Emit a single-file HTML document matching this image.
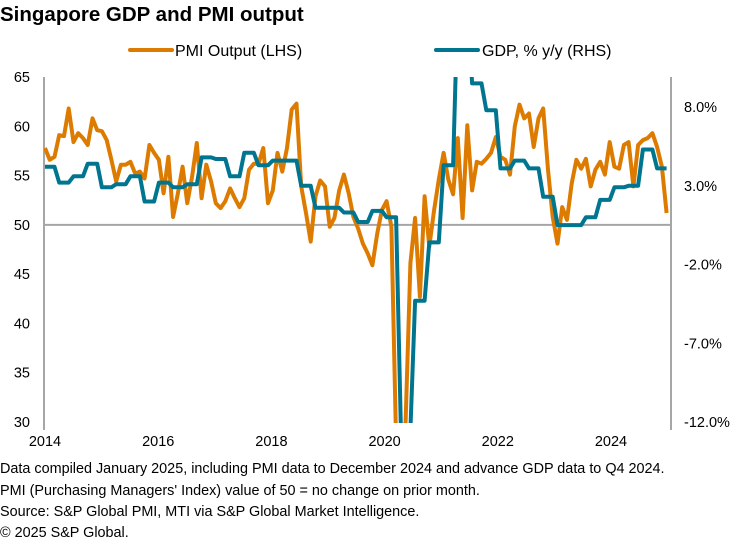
<!DOCTYPE html>
<html><head><meta charset="utf-8"><style>
body{margin:0;background:#fff;width:743px;height:541px;overflow:hidden;font-family:"Liberation Sans",Arial,sans-serif;}
svg text{font-family:"Liberation Sans",Arial,sans-serif;}
</style></head><body>
<svg id="chart" width="743" height="541" viewBox="0 0 743 541">
<text x="0" y="21" font-size="20.5" font-weight="bold" fill="#000">Singapore GDP and PMI output</text>
<g>
<line x1="130" y1="50" x2="172" y2="50" stroke="#dd7b00" stroke-width="4" stroke-linecap="round"/>
<text x="175" y="56" font-size="16" fill="#000">PMI Output (LHS)</text>
<line x1="436" y1="50" x2="478" y2="50" stroke="#00758f" stroke-width="4" stroke-linecap="round"/>
<text x="482" y="56" font-size="16" fill="#000">GDP, % y/y (RHS)</text>
</g>
<defs><clipPath id="plotclip"><rect x="44" y="77" width="628" height="346"/></clipPath></defs>
<g id="axes"></g>
<g id="series" clip-path="url(#plotclip)"></g>
<g font-size="14.4" fill="#000">
<text x="0" y="473">Data compiled January 2025, including PMI data to December 2024 and advance GDP data to Q4 2024.</text>
<text x="0" y="495">PMI (Purchasing Managers' Index) value of 50 = no change on prior month.</text>
<text x="0" y="516">Source: S&amp;P Global PMI, MTI via S&amp;P Global Market Intelligence.</text>
<text x="0" y="537">© 2025 S&amp;P Global.</text>
</g>
</svg>
<script>
const yearTicks = [2014, 2016, 2018, 2020, 2022, 2024];
const leftTicks = [30, 35, 40, 45, 50, 55, 60, 65];
const rightTicks = [-12, -7, -2, 3, 8];
const pmiOutput = [57.8,56.6,56.9,59.1,59.0,61.8,58.4,59.3,58.8,58.1,60.8,59.6,
59.5,58.6,56.6,54.4,56.1,56.1,56.4,55.2,55.4,54.7,58.1,57.3,
56.6,53.2,56.9,50.8,53.2,55.9,52.2,54.9,58.3,52.7,56.1,54.4,
52.2,51.7,52.4,53.7,52.7,51.8,52.7,55.6,56.2,56.2,57.8,52.2,
53.5,57.3,55.4,57.8,61.7,62.3,53.9,51.2,48.3,52.9,54.5,53.9,
49.8,50.7,53.5,55.1,53.2,50.8,49.6,48.1,47.1,45.9,49.1,51.5,
52.4,49.8,28.0,28.0,30.0,46.1,50.7,42.7,52.9,47.8,51.5,54.6,
57.3,54.6,53.1,58.8,50.7,60.1,53.5,56.4,56.2,56.7,57.3,58.9,
56.9,56.6,55.1,60.0,62.2,60.8,61.3,57.9,60.8,61.8,55.6,50.8,
48.1,51.8,50.5,54.2,56.6,55.7,56.7,53.9,55.6,56.4,55.1,58.4,
55.9,55.7,58.1,58.4,53.9,58.1,58.6,58.8,59.3,57.9,55.9,51.2];
const gdpQuarterly = [4.2,3.2,3.6,4.4, 2.9,3.1,3.6,2.0, 3.2,2.9,3.1,4.8, 4.7,3.6,5.1,4.3,
4.6,4.6,3.0,1.6, 1.6,1.3,0.7,1.4, 1.0,-12.5,-4.3,-0.6, 4.3,15.0,9.5,7.8,
4.1,4.6,4.1,2.3, 0.5,0.5,1.0,2.1, 2.9,3.0,5.3,4.1];

const NS='http://www.w3.org/2000/svg';
const X0=45, YEARPX=56.6, MONTHPX=4.745;
function xYear(y){return X0+(y-2014)*YEARPX;}
function xMonth(m){return X0+m*MONTHPX;}
function yL(v){return 77+(65-v)*(345/35);}
function yR(v){return 107+(8-v)*(315/20);}
function mk(tag,attrs,parent){const e=document.createElementNS(NS,tag);for(const k in attrs)e.setAttribute(k,attrs[k]);parent.appendChild(e);return e;}
const axes=document.getElementById('axes'), series=document.getElementById('series');

let e=mk('line',{x1:44,y1:77,x2:44,y2:430,stroke:'#a6a6a6','stroke-width':2},axes);


e=mk('line',{x1:671,y1:77,x2:671,y2:430,stroke:'#a6a6a6','stroke-width':2},axes);


e=mk('line',{x1:44,y1:yL(50),x2:671,y2:yL(50),stroke:'#a6a6a6','stroke-width':2},axes);



leftTicks.forEach(v=>{
  const t=mk('text',{x:30,y:yL(v)+5,'font-size':14.5,'text-anchor':'end',fill:'#000'},axes);
  t.textContent=v;
  
  
});
rightTicks.forEach(v=>{
  const t=mk('text',{x:684,y:yR(v)+5,'font-size':14.5,fill:'#000'},axes);
  t.textContent=v.toFixed(1)+'%';
  
  
});
yearTicks.forEach(y=>{
  const t=mk('text',{x:xYear(y),y:446,'font-size':14.5,'text-anchor':'middle',fill:'#000'},axes);
  t.textContent=y;
  
  
});

const pmiPts=pmiOutput.map((v,i)=>xMonth(i).toFixed(1)+','+yL(v).toFixed(1)).join(' ');
const pl=mk('polyline',{points:pmiPts,fill:'none',stroke:'#dd7b00','stroke-width':4,'stroke-linejoin':'round'},series);



const gPts=[];
gdpQuarterly.forEach((v,q)=>{gPts.push(xMonth(3*q).toFixed(1)+','+yR(v).toFixed(1));gPts.push(xMonth(3*q+2).toFixed(1)+','+yR(v).toFixed(1));});
const gl=mk('polyline',{points:gPts.join(' '),fill:'none',stroke:'#00758f','stroke-width':4,'stroke-linejoin':'round'},series);


</script>
</body></html>
